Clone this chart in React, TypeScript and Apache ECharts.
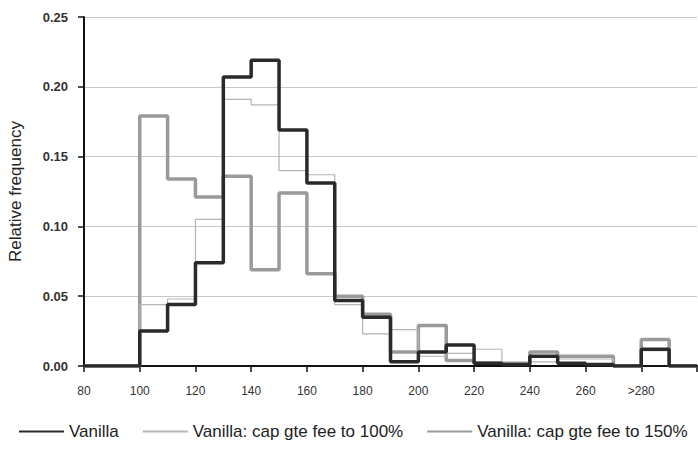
import React, { useEffect, useRef } from "react";
import * as echarts from "echarts";

const binStarts = [80, 90, 100, 110, 120, 130, 140, 150, 160, 170, 180, 190, 200, 210, 220, 230, 240, 250, 260, 270, 280, 290];
const lastEdge = 300;
const vanilla = [0, 0, 0.025, 0.044, 0.074, 0.207, 0.219, 0.169, 0.131, 0.047, 0.035, 0.003, 0.010, 0.015, 0.002, 0.001, 0.007, 0.002, 0.001, 0, 0.012, 0];
const cap100 = [0, 0, 0.044, 0.048, 0.105, 0.191, 0.187, 0.140, 0.137, 0.044, 0.023, 0.026, 0.007, 0.009, 0.012, 0.002, 0.003, 0.005, 0.005, 0, 0.011, 0];
const cap150 = [0, 0, 0.179, 0.134, 0.121, 0.136, 0.069, 0.124, 0.066, 0.050, 0.037, 0.010, 0.029, 0.004, 0.002, 0.002, 0.010, 0.007, 0.007, 0, 0.019, 0];
const seriesNames = ["Vanilla", "Vanilla: cap gte fee to 100%", "Vanilla: cap gte fee to 150%"];
const xTickLabels: Record<number, string> = { 80: "80", 100: "100", 120: "120", 140: "140", 160: "160", 180: "180", 200: "200", 220: "220", 240: "240", 260: "260", 280: ">280", 300: "" };

const FONT = "'Liberation Sans', Arial, sans-serif";

function toSteps(vals: number[]) {
  const pts = binStarts.map((b, i) => [b, vals[i]]);
  pts.push([lastEdge, vals[vals.length - 1]]);
  return pts;
}

export default function App() {
  const ref = useRef<HTMLDivElement>(null);
  useEffect(() => {
    if (!ref.current) return;
    const chart = echarts.init(ref.current, null, { renderer: "svg" });
    chart.setOption({
      animation: false,
      backgroundColor: "#ffffff",
      textStyle: { fontFamily: FONT },
      grid: { left: 84, right: 1, top: 17, bottom: 84, containLabel: false, outerBoundsMode: "none" },
      legend: {
        left: 18,
        top: 423,
        padding: 0,
        width: 680,
        itemWidth: 45,
        itemHeight: 12,
        itemGap: 23,
        itemStyle: { opacity: 0 },
        data: [seriesNames[0], seriesNames[1], seriesNames[2]],
        textStyle: { fontSize: 17, color: "#222", fontFamily: FONT },
      },
      xAxis: {
        type: "value",
        min: 80,
        max: 300,
        interval: 20,
        axisLine: { show: true, lineStyle: { color: "#111", width: 2 } },
        axisTick: { show: true, length: 6, lineStyle: { color: "#111", width: 1.5 } },
        splitLine: { show: false },
        axisLabel: {
          margin: 19,
          fontSize: 12,
          color: "#333",
          fontFamily: FONT,
          formatter: (v: number) => (xTickLabels[v] !== undefined ? xTickLabels[v] : String(v)),
        },
      },
      yAxis: {
        type: "value",
        min: 0,
        max: 0.25,
        interval: 0.05,
        name: "Relative frequency",
        nameLocation: "middle",
        nameRotate: 90,
        nameGap: 60,
        nameTextStyle: { fontSize: 17, color: "#222", fontFamily: FONT },
        axisLine: { show: true, lineStyle: { color: "#111", width: 2 } },
        axisTick: { show: true, length: 6, lineStyle: { color: "#111", width: 1.5 } },
        splitLine: { show: true, lineStyle: { color: "#c8c8c8", width: 1 } },
        axisLabel: {
          margin: 16,
          fontSize: 13,
          fontWeight: "bold",
          color: "#333",
          fontFamily: FONT,
          formatter: (v: number) => v.toFixed(2),
        },
      },
      series: [
        {
          name: seriesNames[2],
          type: "line",
          step: "end",
          symbol: "none",
          data: toSteps(cap150),
          lineStyle: { color: "#9a9a9a", width: 3.5 },
          itemStyle: { color: "#9a9a9a" },
          z: 2,
        },
        {
          name: seriesNames[1],
          type: "line",
          step: "end",
          symbol: "none",
          data: toSteps(cap100),
          lineStyle: { color: "#b4b4b4", width: 1.2 },
          itemStyle: { color: "#b4b4b4" },
          z: 3,
        },
        {
          name: seriesNames[0],
          type: "line",
          step: "end",
          symbol: "none",
          data: toSteps(vanilla),
          lineStyle: { color: "#2a2a2a", width: 3.5 },
          itemStyle: { color: "#2a2a2a" },
          z: 4,
        },
      ],
    });
    return () => chart.dispose();
  }, []);
  return <div ref={ref} style={{ position: "absolute", left: 0, top: 0, width: 698, height: 450 }} />;
}
